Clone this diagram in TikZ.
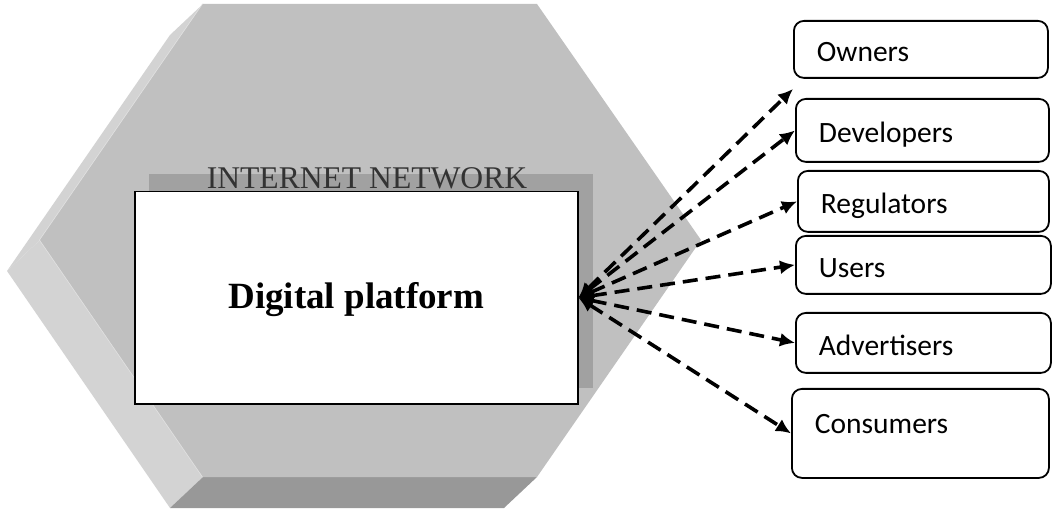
\documentclass[tikz,border=0pt]{standalone}
\usepackage{fontspec}
\setmainfont{Liberation Serif}
\newfontfamily\carlito{Carlito}
\usetikzlibrary{arrows.meta,calc}
\definecolor{hexfront}{HTML}{C0C0C0}
\definecolor{hexside}{HTML}{D3D3D3}
\definecolor{hexedge}{HTML}{E2E2E2}
\definecolor{hexbottom}{HTML}{989898}
\definecolor{shadowgray}{HTML}{A1A1A1}
\definecolor{nettext}{HTML}{333333}
\begin{document}
\begin{tikzpicture}[x=1pt,y=-1pt,
  ent/.style={draw, rounded corners=10pt, line width=1.8pt, anchor=north west,
    align=left, font=\carlito\fontsize{29.5}{34}\selectfont,
    inner xsep=23pt, inner ysep=0pt, text height=25pt, text depth=0pt},
  link/.style={line width=3.6pt, dash pattern=on 15pt off 8pt,
    {Latex[length=15pt,width=14pt]}-{Latex[length=15pt,width=14pt]}},
]
\useasboundingbox (0,0) rectangle (1052,510);
% 3D hexagon (INTERNET NETWORK)
\fill[hexside] (203,4) -- (40,240) -- (7,271) -- (170,35) -- cycle;
\fill[hexside] (40,240) -- (203,477) -- (170,508) -- (7,271) -- cycle;
\fill[hexbottom] (203,477) -- (537,477) -- (504,508) -- (170,508) -- cycle;
\draw[hexedge, line width=1.5pt] (203,4) -- (40,240) -- (203,477);
\fill[hexfront] (203,4) -- (537,4) -- (701,240) -- (537,477) -- (203,477) -- (40,240) -- cycle;
% shadow of the platform box
\fill[shadowgray] (149,174) rectangle (593,388);
\node[anchor=base, text=nettext, font=\fontsize{31.6}{36}\selectfont, inner sep=0pt] (net) at (367,189) {INTERNET NETWORK};
% platform box
\node[draw, fill=white, line width=1.5pt, anchor=north west, minimum width=443pt, minimum height=212pt,
  inner sep=0pt, text height=25pt, text depth=3pt, font=\bfseries\fontsize{37}{42}\selectfont] (dp) at (134,191) {Digital platform};
% stakeholder boxes
\node[ent, text width=208pt, minimum height=57pt] (own) at (793,20) {Owners};
\node[ent, text width=207pt, minimum height=63pt] (dev) at (795,98) {Developers};
\node[ent, text width=205pt, minimum height=61pt] (reg) at (797,170) {Regulators};
\node[ent, text width=209pt, minimum height=58pt] (usr) at (795,235) {Users};
\node[ent, text width=209pt, minimum height=60pt] (adv) at (795,312) {Advertisers};
\node[ent, text width=211pt, minimum height=89pt, text height=20pt, text depth=20pt] (con) at (791,388) {Consumers};
\coordinate (ownend) at (793,89);
% connectors
\draw[link] (dp.east) -- (ownend);
\draw[link] (dp.east) -- (dev.west);
\draw[link] (dp.east) -- (reg.west);
\draw[link] (dp.east) -- (usr.west);
\draw[link] (dp.east) -- (adv.west);
\draw[link] (dp.east) -- (con.west);
\end{tikzpicture}
\end{document}
